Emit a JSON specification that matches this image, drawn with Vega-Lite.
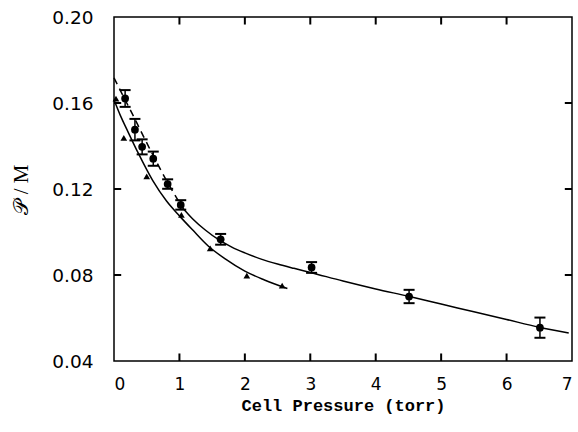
{
  "$schema": "https://vega.github.io/schema/vega-lite/v6.json",
  "width": 458,
  "height": 344,
  "autosize": "none",
  "padding": {"left": 114, "top": 17, "right": 6, "bottom": 71},
  "background": "white",
  "config": {
    "view": {"stroke": "black", "strokeWidth": 1.5},
    "axis": {
      "grid": false,
      "domain": false,
      "ticks": false,
      "zindex": 1,
      "labelColor": "black",
      "titleColor": "black",
      "labelFont": "DejaVu Sans",
      "labelFontSize": 18
    }
  },
  "datasets": {
    "circles": [
      {"p": 0.17, "v": 0.1621, "lo": 0.1582, "hi": 0.1660},
      {"p": 0.32, "v": 0.1476, "lo": 0.1426, "hi": 0.1526},
      {"p": 0.43, "v": 0.1396, "lo": 0.1361, "hi": 0.1431},
      {"p": 0.60, "v": 0.1341, "lo": 0.1308, "hi": 0.1374},
      {"p": 0.82, "v": 0.1223, "lo": 0.1201, "hi": 0.1245},
      {"p": 1.02, "v": 0.1126, "lo": 0.1104, "hi": 0.1148},
      {"p": 1.63, "v": 0.0966, "lo": 0.0941, "hi": 0.0991},
      {"p": 3.02, "v": 0.0835, "lo": 0.0810, "hi": 0.0860},
      {"p": 4.51, "v": 0.0700, "lo": 0.0669, "hi": 0.0731},
      {"p": 6.51, "v": 0.0555, "lo": 0.0508, "hi": 0.0602}
    ],
    "triangles": [
      {"p": 0.03, "v": 0.162},
      {"p": 0.15, "v": 0.1438},
      {"p": 0.50, "v": 0.1259},
      {"p": 1.03, "v": 0.108},
      {"p": 1.47, "v": 0.0924},
      {"p": 2.03, "v": 0.0797},
      {"p": 2.57, "v": 0.0751}
    ],
    "xticks": [{"p": 1}, {"p": 2}, {"p": 3}, {"p": 4}, {"p": 5}, {"p": 6}],
    "yticks": [{"v": 0.08}, {"v": 0.12}, {"v": 0.16}],
    "fit": [
      {"curve": "c_dash", "p": 0.0, "v": 0.1717},
      {"curve": "c_dash", "p": 0.17, "v": 0.1615},
      {"curve": "c_dash", "p": 0.32, "v": 0.1525},
      {"curve": "c_dash", "p": 0.45, "v": 0.1445},
      {"curve": "c_dash", "p": 0.6, "v": 0.1355},
      {"curve": "c_dash", "p": 0.82, "v": 0.1230},
      {"curve": "c_dash", "p": 1.05, "v": 0.1112},
      {"curve": "c_solid", "p": 1.05, "v": 0.1112},
      {"curve": "c_solid", "p": 1.2, "v": 0.1062},
      {"curve": "c_solid", "p": 1.4, "v": 0.1008},
      {"curve": "c_solid", "p": 1.6, "v": 0.0964},
      {"curve": "c_solid", "p": 1.8, "v": 0.0930},
      {"curve": "c_solid", "p": 2.0, "v": 0.0903},
      {"curve": "c_solid", "p": 2.25, "v": 0.0874},
      {"curve": "c_solid", "p": 2.5, "v": 0.0851},
      {"curve": "c_solid", "p": 2.75, "v": 0.0831},
      {"curve": "c_solid", "p": 3.0, "v": 0.0812},
      {"curve": "c_solid", "p": 3.5, "v": 0.0772},
      {"curve": "c_solid", "p": 4.0, "v": 0.0735},
      {"curve": "c_solid", "p": 4.5, "v": 0.0701},
      {"curve": "c_solid", "p": 5.0, "v": 0.0665},
      {"curve": "c_solid", "p": 5.5, "v": 0.0629},
      {"curve": "c_solid", "p": 6.0, "v": 0.0593},
      {"curve": "c_solid", "p": 6.5, "v": 0.0557},
      {"curve": "c_solid", "p": 6.95, "v": 0.0530},
      {"curve": "t_solid", "p": 0.0, "v": 0.1615},
      {"curve": "t_solid", "p": 0.1, "v": 0.1540},
      {"curve": "t_solid", "p": 0.2, "v": 0.1475},
      {"curve": "t_solid", "p": 0.365, "v": 0.1370},
      {"curve": "t_solid", "p": 0.5, "v": 0.1290},
      {"curve": "t_solid", "p": 0.6, "v": 0.1235},
      {"curve": "t_solid", "p": 0.8, "v": 0.1145},
      {"curve": "t_solid", "p": 1.0, "v": 0.1075},
      {"curve": "t_solid", "p": 1.2, "v": 0.1010},
      {"curve": "t_solid", "p": 1.44, "v": 0.0935},
      {"curve": "t_solid", "p": 1.7, "v": 0.0875},
      {"curve": "t_solid", "p": 2.0, "v": 0.0818},
      {"curve": "t_solid", "p": 2.3, "v": 0.0777},
      {"curve": "t_solid", "p": 2.65, "v": 0.0737}
    ]
  },
  "resolve": {"axis": {"x": "independent", "y": "independent"}},
  "layer": [
    {
      "data": {"name": "fit"},
      "transform": [{"filter": "datum.curve !== 'c_dash'"}],
      "mark": {"type": "line", "color": "black", "strokeWidth": 1.5, "interpolate": "monotone"},
      "encoding": {
        "x": {"field": "p", "type": "quantitative", "scale": {"domain": [0, 7], "nice": false},
          "axis": {"orient": "bottom", "values": [0, 1, 2, 3, 4, 5, 6, 7],
            "labelPadding": 15, "labelFontSize": 17,
            "title": "Cell Pressure (torr)", "titleFont": "Liberation Mono", "titleFontSize": 17, "titleFontWeight": "bold", "titlePadding": 5}},
        "y": {"field": "v", "type": "quantitative", "scale": {"domain": [0.04, 0.20], "nice": false},
          "axis": {"orient": "left", "values": [0.04, 0.08, 0.12, 0.16, 0.20], "format": ".2f",
            "labelPadding": 21, "labelFontSize": 18.5,
            "title": "𝒫 / M", "titleFont": "Liberation Serif", "titleFontSize": 21, "titleFontWeight": "normal", "titlePadding": 20}},
        "detail": {"field": "curve"}
      }
    },
    {
      "data": {"name": "fit"},
      "transform": [{"filter": "datum.curve === 'c_dash'"}],
      "mark": {"type": "line", "color": "black", "strokeWidth": 1.5, "strokeDash": [7, 5], "interpolate": "monotone"},
      "encoding": {
        "x": {"field": "p", "type": "quantitative", "axis": null},
        "y": {"field": "v", "type": "quantitative", "axis": null}
      }
    },
    {
      "data": {"name": "xticks"},
      "mark": {"type": "rule", "color": "black", "strokeWidth": 2},
      "encoding": {
        "x": {"field": "p", "type": "quantitative", "axis": null},
        "y": {"datum": 0.04, "type": "quantitative", "axis": null},
        "y2": {"datum": 0.0435}
      }
    },
    {
      "data": {"name": "xticks"},
      "mark": {"type": "rule", "color": "black", "strokeWidth": 2},
      "encoding": {
        "x": {"field": "p", "type": "quantitative", "axis": null},
        "y": {"datum": 0.20, "type": "quantitative", "axis": null},
        "y2": {"datum": 0.1965}
      }
    },
    {
      "data": {"name": "yticks"},
      "mark": {"type": "rule", "color": "black", "strokeWidth": 2},
      "encoding": {
        "x": {"datum": 0, "type": "quantitative", "axis": null},
        "x2": {"datum": 0.11},
        "y": {"field": "v", "type": "quantitative", "axis": null}
      }
    },
    {
      "data": {"name": "yticks"},
      "mark": {"type": "rule", "color": "black", "strokeWidth": 2},
      "encoding": {
        "x": {"datum": 7, "type": "quantitative", "axis": null},
        "x2": {"datum": 6.89},
        "y": {"field": "v", "type": "quantitative", "axis": null}
      }
    },
    {
      "data": {"name": "circles"},
      "mark": {"type": "rule", "color": "black", "strokeWidth": 1.5},
      "encoding": {
        "x": {"field": "p", "type": "quantitative", "axis": null},
        "y": {"field": "lo", "type": "quantitative", "axis": null},
        "y2": {"field": "hi"}
      }
    },
    {
      "data": {"name": "circles"},
      "mark": {"type": "tick", "color": "black", "orient": "horizontal", "size": 11, "thickness": 2, "opacity": 1},
      "encoding": {
        "x": {"field": "p", "type": "quantitative", "axis": null},
        "y": {"field": "lo", "type": "quantitative", "axis": null}
      }
    },
    {
      "data": {"name": "circles"},
      "mark": {"type": "tick", "color": "black", "orient": "horizontal", "size": 11, "thickness": 2, "opacity": 1},
      "encoding": {
        "x": {"field": "p", "type": "quantitative", "axis": null},
        "y": {"field": "hi", "type": "quantitative", "axis": null}
      }
    },
    {
      "data": {"name": "circles"},
      "mark": {"type": "point", "shape": "circle", "filled": true, "color": "black", "size": 60, "opacity": 1},
      "encoding": {
        "x": {"field": "p", "type": "quantitative", "axis": null},
        "y": {"field": "v", "type": "quantitative", "axis": null}
      }
    },
    {
      "data": {"name": "triangles"},
      "mark": {"type": "point", "shape": "triangle-up", "filled": true, "color": "black", "size": 45, "opacity": 1},
      "encoding": {
        "x": {"field": "p", "type": "quantitative", "axis": null},
        "y": {"field": "v", "type": "quantitative", "axis": null}
      }
    }
  ]
}
